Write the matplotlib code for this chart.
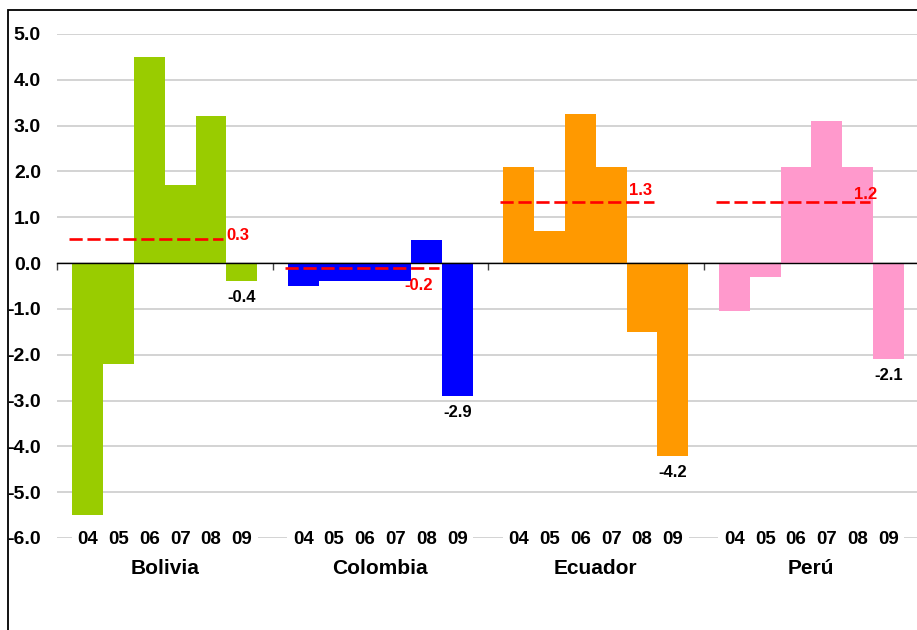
import numpy as np
import matplotlib
matplotlib.use("Agg")
import matplotlib.pyplot as plt
from matplotlib.patches import Rectangle

plt.rcParams['font.family'] = ['Liberation Sans', 'DejaVu Sans']
plt.rcParams['font.weight'] = 'bold'

# data
countries = ['Bolivia', 'Colombia', 'Ecuador', 'Perú']
years = ['04', '05', '06', '07', '08', '09']
bolivia = [-5.5, -2.2, 4.5, 1.7, 3.2, -0.4]
colombia = [-0.5, -0.4, -0.4, -0.4, 0.5, -2.9]
ecuador = [2.1, 0.7, 3.25, 2.1, -1.5, -4.2]
peru = [-1.05, -0.3, 2.1, 3.1, 2.1, -2.1]
avg_values = [0.52, -0.1, 1.33, 1.33]
avg_labels = ['0.3', '-0.2', '1.3', '1.2']
last_labels = ['-0.4', '-2.9', '-4.2', '-2.1']
y_ticks = np.arange(-6, 6)

# style
colors = ['#99CC00', '#0000FF', '#FF9900', '#FF99CC']
# (dx px, dy px, ha) for the red average labels, relative to the dashed line end
avg_offsets = [(3, 4, 'left'), (-6, -18, 'right'), (-14, 12, 'center'), (-4, 8, 'center')]

series = [bolivia, colombia, ecuador, peru]
slots = 7  # six years plus one empty slot per country

fig = plt.figure(figsize=(9.17, 6.3), dpi=100)
ax = fig.add_axes([57 / 917, 1 - 538 / 630, (28 * 30.79) / 917, (538 - 34) / 630])

px = 0.72  # points per pixel at dpi 100

for g, (vals, col) in enumerate(zip(series, colors)):
    x = g * slots + 1 + np.arange(len(vals))
    ax.bar(x, vals, width=1.0, color=col, zorder=2)

    # average dashed line
    x0, x1 = g * slots + 0.4, g * slots + 5.4
    ax.plot([x0, x1], [avg_values[g]] * 2, color='#FF0000', lw=1.9,
            dashes=(5, 1.8), zorder=4)
    dx, dy, ha = avg_offsets[g]
    ax.annotate(avg_labels[g], xy=(x1, avg_values[g]), xytext=(dx * px, dy * px),
                textcoords='offset points', ha=ha, va='center', color='#FF0000',
                fontsize=12, fontweight='bold', zorder=5)

    # label under the last bar
    ax.annotate(last_labels[g], xy=(x[-1], vals[-1]), xytext=(0, -9 * px),
                textcoords='offset points', ha='center', va='top', color='black',
                fontsize=12, fontweight='bold', zorder=5)

    # category labels on the bottom gridline
    for xi, yr in zip(x, years):
        ax.annotate(yr, xy=(xi, y_ticks[0]), xytext=(0, -2 * px),
                    textcoords='offset points', ha='center', va='center',
                    fontsize=13.5, fontweight='bold', annotation_clip=False,
                    bbox=dict(boxstyle='square,pad=0.3', fc='white', ec='none'),
                    zorder=6)
    ax.annotate(countries[g], xy=(g * slots + 3.5, y_ticks[0]), xytext=(0, -30 * px),
                textcoords='offset points', ha='center', va='center',
                fontsize=15, fontweight='bold', annotation_clip=False)

ax.set_xlim(0, 4 * slots)
ax.set_ylim(y_ticks[0], y_ticks[-1])
ax.set_yticks(y_ticks)
ax.set_yticklabels([f'{v:.1f}' for v in y_ticks], fontsize=14, fontweight='bold')
ax.tick_params(axis='y', length=0, pad=16 * px)
ax.yaxis.grid(True, color='#cccccc', lw=1.2, zorder=0)
ax.set_axisbelow(True)

for s in ['left', 'right', 'top']:
    ax.spines[s].set_visible(False)
ax.spines['bottom'].set_position(('data', 0))
ax.spines['bottom'].set_color('black')
ax.spines['bottom'].set_linewidth(1.0)
ax.spines['bottom'].set_zorder(3)
ax.set_xticks(np.arange(0, 4 * slots + 1, slots))
ax.set_xticklabels([])
ax.tick_params(axis='x', length=5, width=1, direction='out', color='#444444')

# chart border (only left and top edges show in this crop)
fig.patches.append(Rectangle((8 / 917, -0.1), 1.2, 1 - 10 / 630 + 0.1,
                             transform=fig.transFigure, fill=False,
                             ec='black', lw=1.3))

fig.savefig('out.png', dpi=100)
